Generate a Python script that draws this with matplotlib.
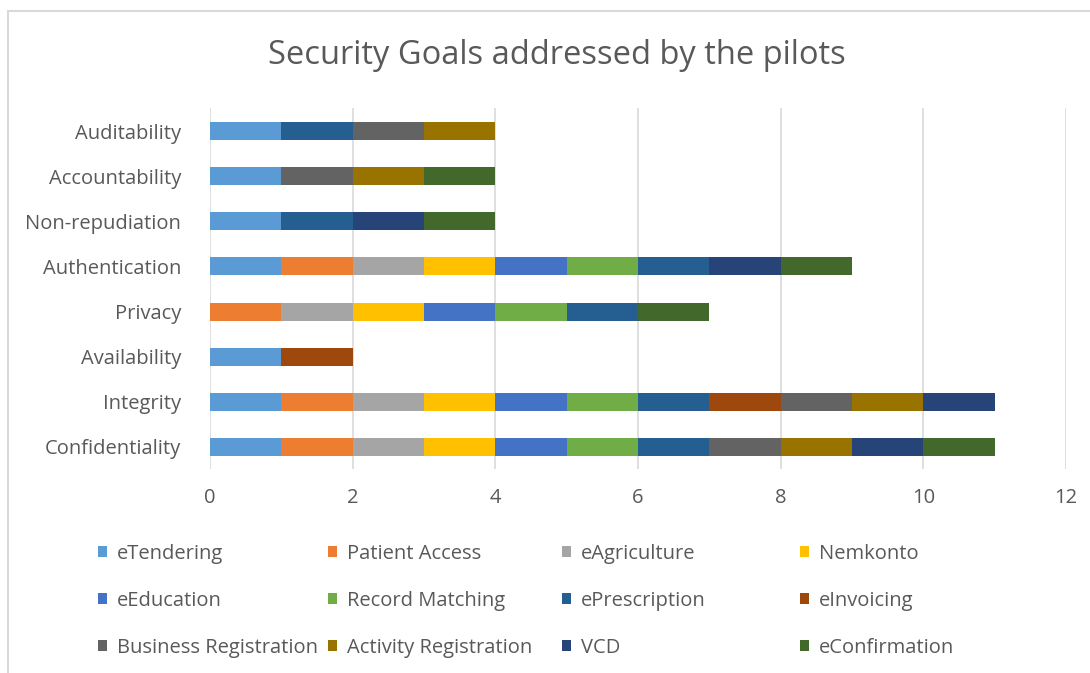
import matplotlib.pyplot as plt
import matplotlib.patches as mpatches
import numpy as np

plt.rcParams['font.family'] = ['Open Sans', 'DejaVu Sans']

# Categories (bottom to top)
goals = ['Confidentiality', 'Integrity', 'Availability', 'Privacy',
         'Authentication', 'Non-repudiation', 'Accountability', 'Auditability']

# One value per goal for every pilot
pilots = ['eTendering', 'Patient Access', 'eAgriculture', 'Nemkonto',
          'eEducation', 'Record Matching', 'ePrescription', 'eInvoicing',
          'Business Registration', 'Activity Registration', 'VCD', 'eConfirmation']
eTendering            = [1, 1, 1, 0, 1, 1, 1, 1]
patient_access        = [1, 1, 0, 1, 1, 0, 0, 0]
eAgriculture          = [1, 1, 0, 1, 1, 0, 0, 0]
nemkonto              = [1, 1, 0, 1, 1, 0, 0, 0]
eEducation            = [1, 1, 0, 1, 1, 0, 0, 0]
record_matching       = [1, 1, 0, 1, 1, 0, 0, 0]
ePrescription         = [1, 1, 0, 1, 1, 1, 0, 1]
eInvoicing            = [0, 1, 1, 0, 0, 0, 0, 0]
business_registration = [1, 1, 0, 0, 0, 0, 1, 1]
activity_registration = [1, 1, 0, 0, 0, 0, 1, 1]
vcd                   = [1, 1, 0, 0, 1, 1, 0, 0]
eConfirmation         = [1, 0, 0, 1, 1, 1, 1, 0]

series = [eTendering, patient_access, eAgriculture, nemkonto, eEducation,
          record_matching, ePrescription, eInvoicing, business_registration,
          activity_registration, vcd, eConfirmation]
colors = ['#5B9BD5', '#ED7D31', '#A5A5A5', '#FFC000', '#4472C4', '#70AD47',
          '#255E91', '#9E480E', '#636363', '#997300', '#264478', '#43682B']

text_col = '#595959'

fig = plt.figure(figsize=(10.9, 6.73), dpi=100)
ax = fig.add_axes([0.1927, 0.3024, 0.7853, 0.5364])

y = np.arange(len(goals))
left = np.zeros(len(goals))
handles = []
for name, vals, c in zip(pilots, series, colors):
    vals = np.array(vals, dtype=float)
    b = ax.barh(y, vals, left=left, height=0.4, color=c, label=name, zorder=3)
    handles.append(b)
    left += vals

ax.set_xlim(0, 12)
ax.set_ylim(-0.5, len(goals) - 0.5)
ax.set_xticks(np.arange(0, 13, 2))
ax.set_yticks(y)
ax.set_yticklabels(goals)
ax.grid(axis='x', color='#D9D9D9', linewidth=1.2, zorder=0)
for s in ax.spines.values():
    s.set_visible(False)
ax.tick_params(length=0, labelsize=14.5, colors=text_col)
ax.tick_params(axis='y', pad=21)
ax.tick_params(axis='x', pad=13)

fig.text(0.511, 0.918, 'Security Goals addressed by the pilots',
         ha='center', va='center', fontsize=23.5, color=text_col)

# legend: Excel fills rows, so one legend per column
col_x = [98 / 1090, 328 / 1090, 562 / 1090, 800 / 1090]
for j in range(4):
    idx = [j, j + 4, j + 8]
    fig.legend([handles[i] for i in idx], [pilots[i] for i in idx],
               loc='upper left', bbox_to_anchor=(col_x[j], 0.192),
               bbox_transform=fig.transFigure, frameon=False,
               fontsize=14.5, labelcolor=text_col, handlelength=0.45,
               handleheight=0.45, handletextpad=0.5, labelspacing=1.34,
               borderaxespad=0, borderpad=0)

# chart border (top and left edges visible, the rest runs off the image)
fig.patches.append(mpatches.Rectangle((8 / 1090, -0.02), 1.0, 1.02 - 10.5 / 673,
                                      transform=fig.transFigure, fill=False,
                                      edgecolor='#D9D9D9', linewidth=1.5))

fig.savefig('out.png', dpi=100)
